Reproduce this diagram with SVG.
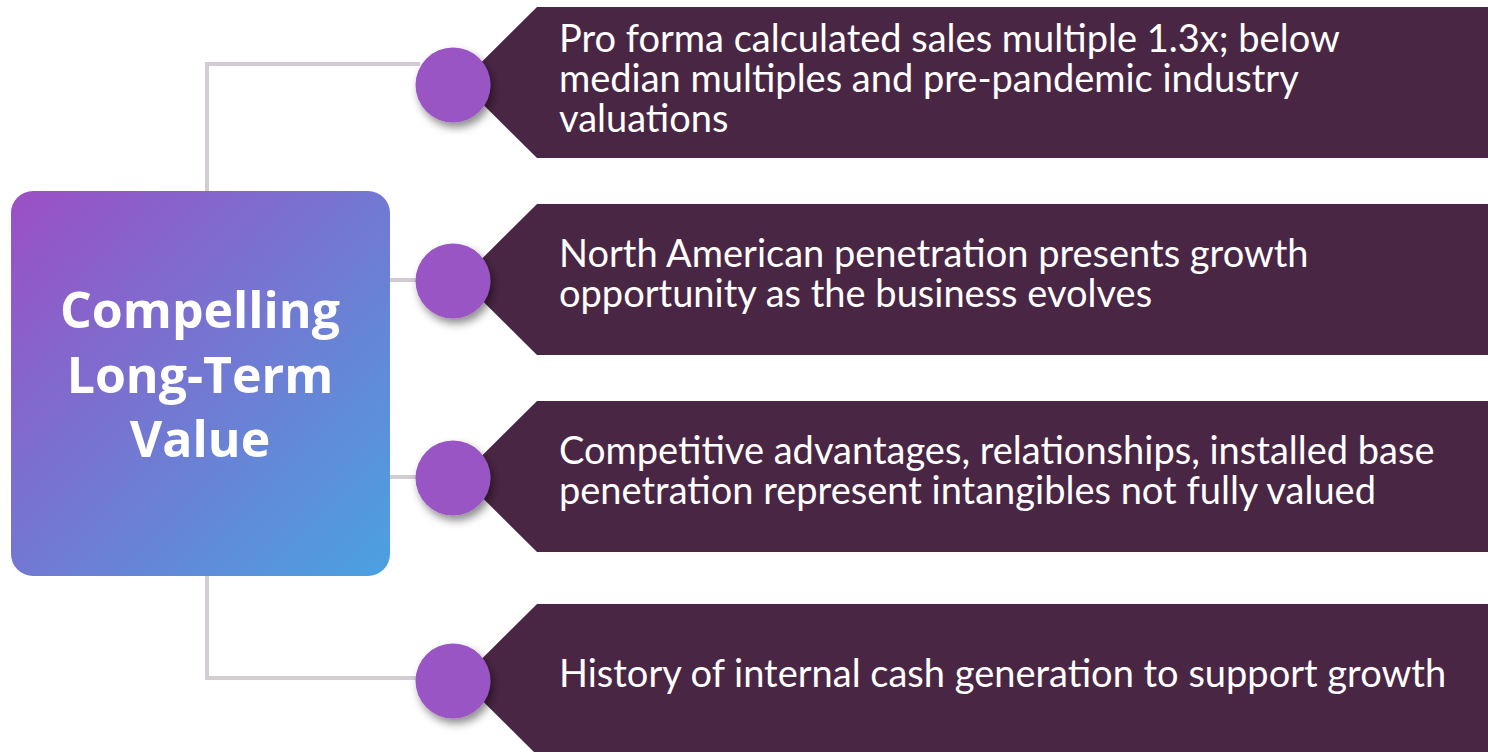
<svg xmlns="http://www.w3.org/2000/svg" width="1488" height="752" viewBox="0 0 1488 752">
  <defs>
    <linearGradient id="boxGrad" x1="0" y1="0" x2="1" y2="1">
      <stop offset="0" stop-color="#9b4fc4"/>
      <stop offset="1" stop-color="#4aa2e0"/>
    </linearGradient>
    <filter id="shadow" x="-40%" y="-40%" width="190%" height="190%">
      <feDropShadow dx="3" dy="5" stdDeviation="4" flood-color="#000000" flood-opacity="0.45"/>
    </filter>
  </defs>
  <style>
    .conn { fill: none; stroke: #d3cdd3; stroke-width: 4; }
    .band { fill: #4a2645; }
    .dot { fill: #9a55c4; filter: url(#shadow); }
    .txt { font-family: Lato, "Open Sans", sans-serif; font-size: 38px; fill: #ffffff; }
    .title { font-family: "Open Sans", "Noto Sans", sans-serif; font-size: 50px; font-weight: bold; fill: #ffffff; text-anchor: middle; }
  </style>
  <rect width="1488" height="752" fill="#ffffff"/>

  <g id="connectors">
    <path class="conn" d="M 420 64 H 207 V 191"/>
    <path class="conn" d="M 390 280 H 420"/>
    <path class="conn" d="M 390 477 H 420"/>
    <path class="conn" d="M 207 576 V 678 H 420"/>
  </g>

  <g id="central">
    <rect x="11" y="191" width="379" height="385" rx="22" fill="url(#boxGrad)"/>
    <text class="title" x="200" y="328">Compelling</text>
    <text class="title" x="200" y="393">Long-Term</text>
    <text class="title" x="200" y="457">Value</text>
  </g>

  <g id="item1">
    <polygon class="band" points="537,7 1488,7 1488,158 537,158 461,82.5"/>
    <circle class="dot" cx="453" cy="85" r="37.5"/>
    <text class="txt" x="559" y="52">Pro forma calculated sales multiple 1.3x; below</text>
    <text class="txt" x="559" y="92">median multiples and pre-pandemic industry</text>
    <text class="txt" x="559" y="132">valuations</text>
  </g>

  <g id="item2">
    <polygon class="band" points="537,204 1488,204 1488,355 537,355 461,279.5"/>
    <circle class="dot" cx="453" cy="281" r="37.5"/>
    <text class="txt" x="559" y="267">North American penetration presents growth</text>
    <text class="txt" x="559" y="307">opportunity as the business evolves</text>
  </g>

  <g id="item3">
    <polygon class="band" points="537,401 1488,401 1488,552 537,552 461,476.5"/>
    <circle class="dot" cx="453" cy="478" r="37.5"/>
    <text class="txt" x="559" y="464">Competitive advantages, relationships, installed base</text>
    <text class="txt" x="559" y="504">penetration represent intangibles not fully valued</text>
  </g>

  <g id="item4">
    <polygon class="band" points="537,604 1488,604 1488,755 537,755 461,679.5"/>
    <circle class="dot" cx="453" cy="681" r="37.5"/>
    <text class="txt" x="559" y="687">History of internal cash generation to support growth</text>
  </g>
</svg>
